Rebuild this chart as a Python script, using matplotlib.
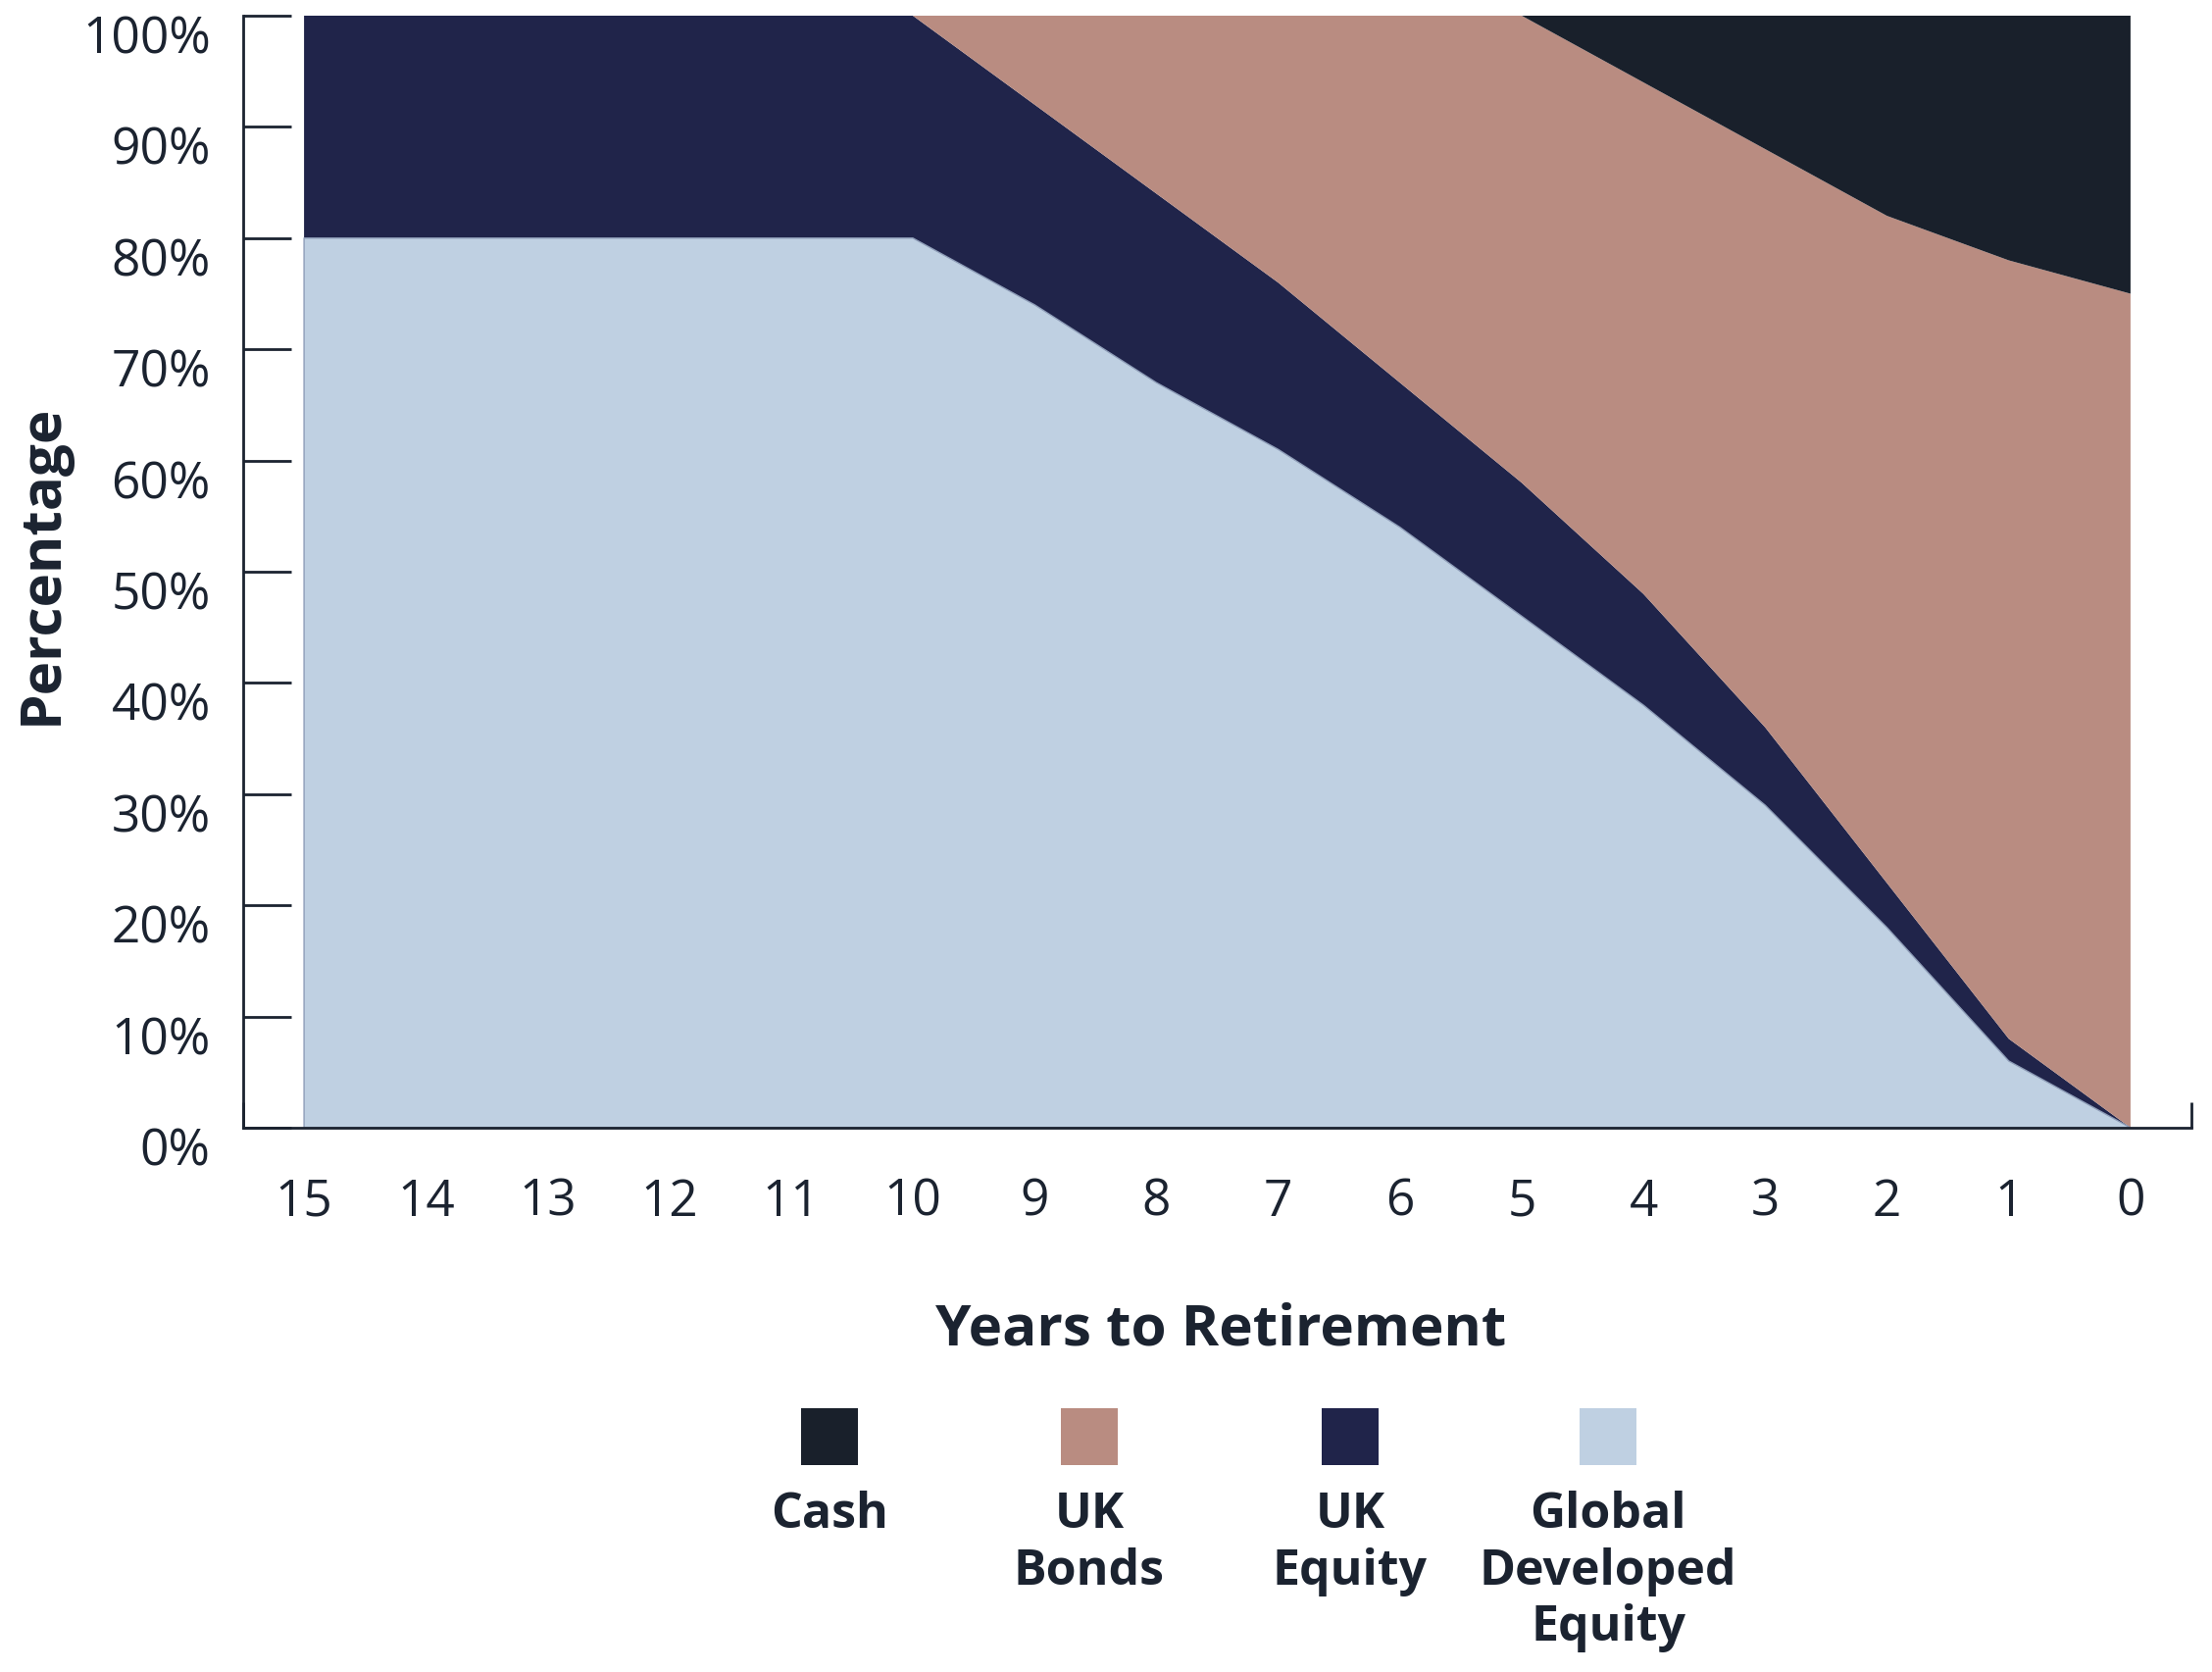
import numpy as np
import matplotlib.pyplot as plt
import matplotlib.transforms as mtransforms
from matplotlib.patches import Rectangle

years = [15, 14, 13, 12, 11, 10, 9, 8, 7, 6, 5, 4, 3, 2, 1, 0]
global_dev_equity = [80, 80, 80, 80, 80, 80, 74, 67, 61, 54, 46, 38, 29, 18, 6, 0]
uk_equity = [20, 20, 20, 20, 20, 20, 18, 17, 15, 13, 12, 10, 7, 4, 2, 0]
uk_bonds = [0, 0, 0, 0, 0, 0, 8, 16, 24, 33, 42, 46, 52, 60, 70, 75]
cash = [0, 0, 0, 0, 0, 0, 0, 0, 0, 0, 0, 6, 12, 18, 22, 25]

legend_labels = ['Cash', 'UK\nBonds', 'UK\nEquity', 'Global\nDeveloped\nEquity']
c_cash = '#19202b'
c_bonds = '#b98c81'
c_ukeq = '#20244a'
c_global = '#bfd0e2'
text_col = '#1b2330'

plt.rcParams['font.family'] = ['Open Sans', 'DejaVu Sans']

W, H = 2256, 1706
fig = plt.figure(figsize=(W / 100, H / 100), dpi=100)
ax = fig.add_axes([248 / W, 1 - 1151 / H, (2235 - 248) / W, (1151 - 17) / H])

x = np.array(years)
ax.stackplot(x, global_dev_equity, uk_equity, uk_bonds, cash,
             colors=[c_global, c_ukeq, c_bonds, c_cash], zorder=1)
# thin edge of the light area, like the original
ax.fill_between(x, 0, global_dev_equity, facecolor='none', edgecolor='#8e9db8',
                linewidth=1.0, zorder=1.1)

ax.set_xlim(15.5, -0.5)
ax.set_ylim(0, 100)
ax.set_axisbelow(True)

ax.set_xticks(x)
ax.set_xticklabels([str(y) for y in years])
ax.set_xticks(np.arange(-0.5, 16, 1), minor=True)
ax.tick_params(axis='x', which='major', length=0, pad=36, labelsize=37, labelcolor=text_col)
ax.tick_params(axis='x', which='minor', direction='in', length=19, width=2, color=text_col)

yt = np.arange(0, 101, 10)
ax.set_yticks(yt)
ax.set_yticklabels(['{}%'.format(v) for v in yt])
ax.tick_params(axis='y', direction='in', length=35, width=2, color=text_col, pad=24,
               labelsize=37, labelcolor=text_col)
offset = mtransforms.ScaledTranslation(0, -18 / 100, fig.dpi_scale_trans)
for lab in ax.get_yticklabels():
    lab.set_transform(lab.get_transform() + offset)

for side in ['top', 'right']:
    ax.spines[side].set_visible(False)
for side in ['left', 'bottom']:
    ax.spines[side].set_color(text_col)
    ax.spines[side].set_linewidth(2)

ax.set_xlabel('Years to Retirement', fontsize=42, fontweight='bold', color=text_col, va='center')
ax.xaxis.set_label_coords(0.502, (1151 - 1357) / 1134)
ax.set_ylabel('Percentage', fontsize=42, fontweight='bold', color=text_col, va='center')
ax.yaxis.set_label_coords((43 - 248) / 1987, 0.508)

# legend: squares with labels underneath
leg_x = [846, 1111, 1377, 1640]
leg_cols = [c_cash, c_bonds, c_ukeq, c_global]
sq = 58
for lx, col, lab in zip(leg_x, leg_cols, legend_labels):
    fig.add_artist(Rectangle(((lx - sq / 2) / W, 1 - (1466 + sq / 2) / H), sq / W, sq / H,
                             transform=fig.transFigure, facecolor=col, edgecolor='none'))
    fig.text(lx / W, 1 - 1520 / H, lab, ha='center', va='top', fontsize=36,
             fontweight='bold', color=text_col, linespacing=1.2)

fig.savefig('out.png', dpi=100, facecolor='white')
